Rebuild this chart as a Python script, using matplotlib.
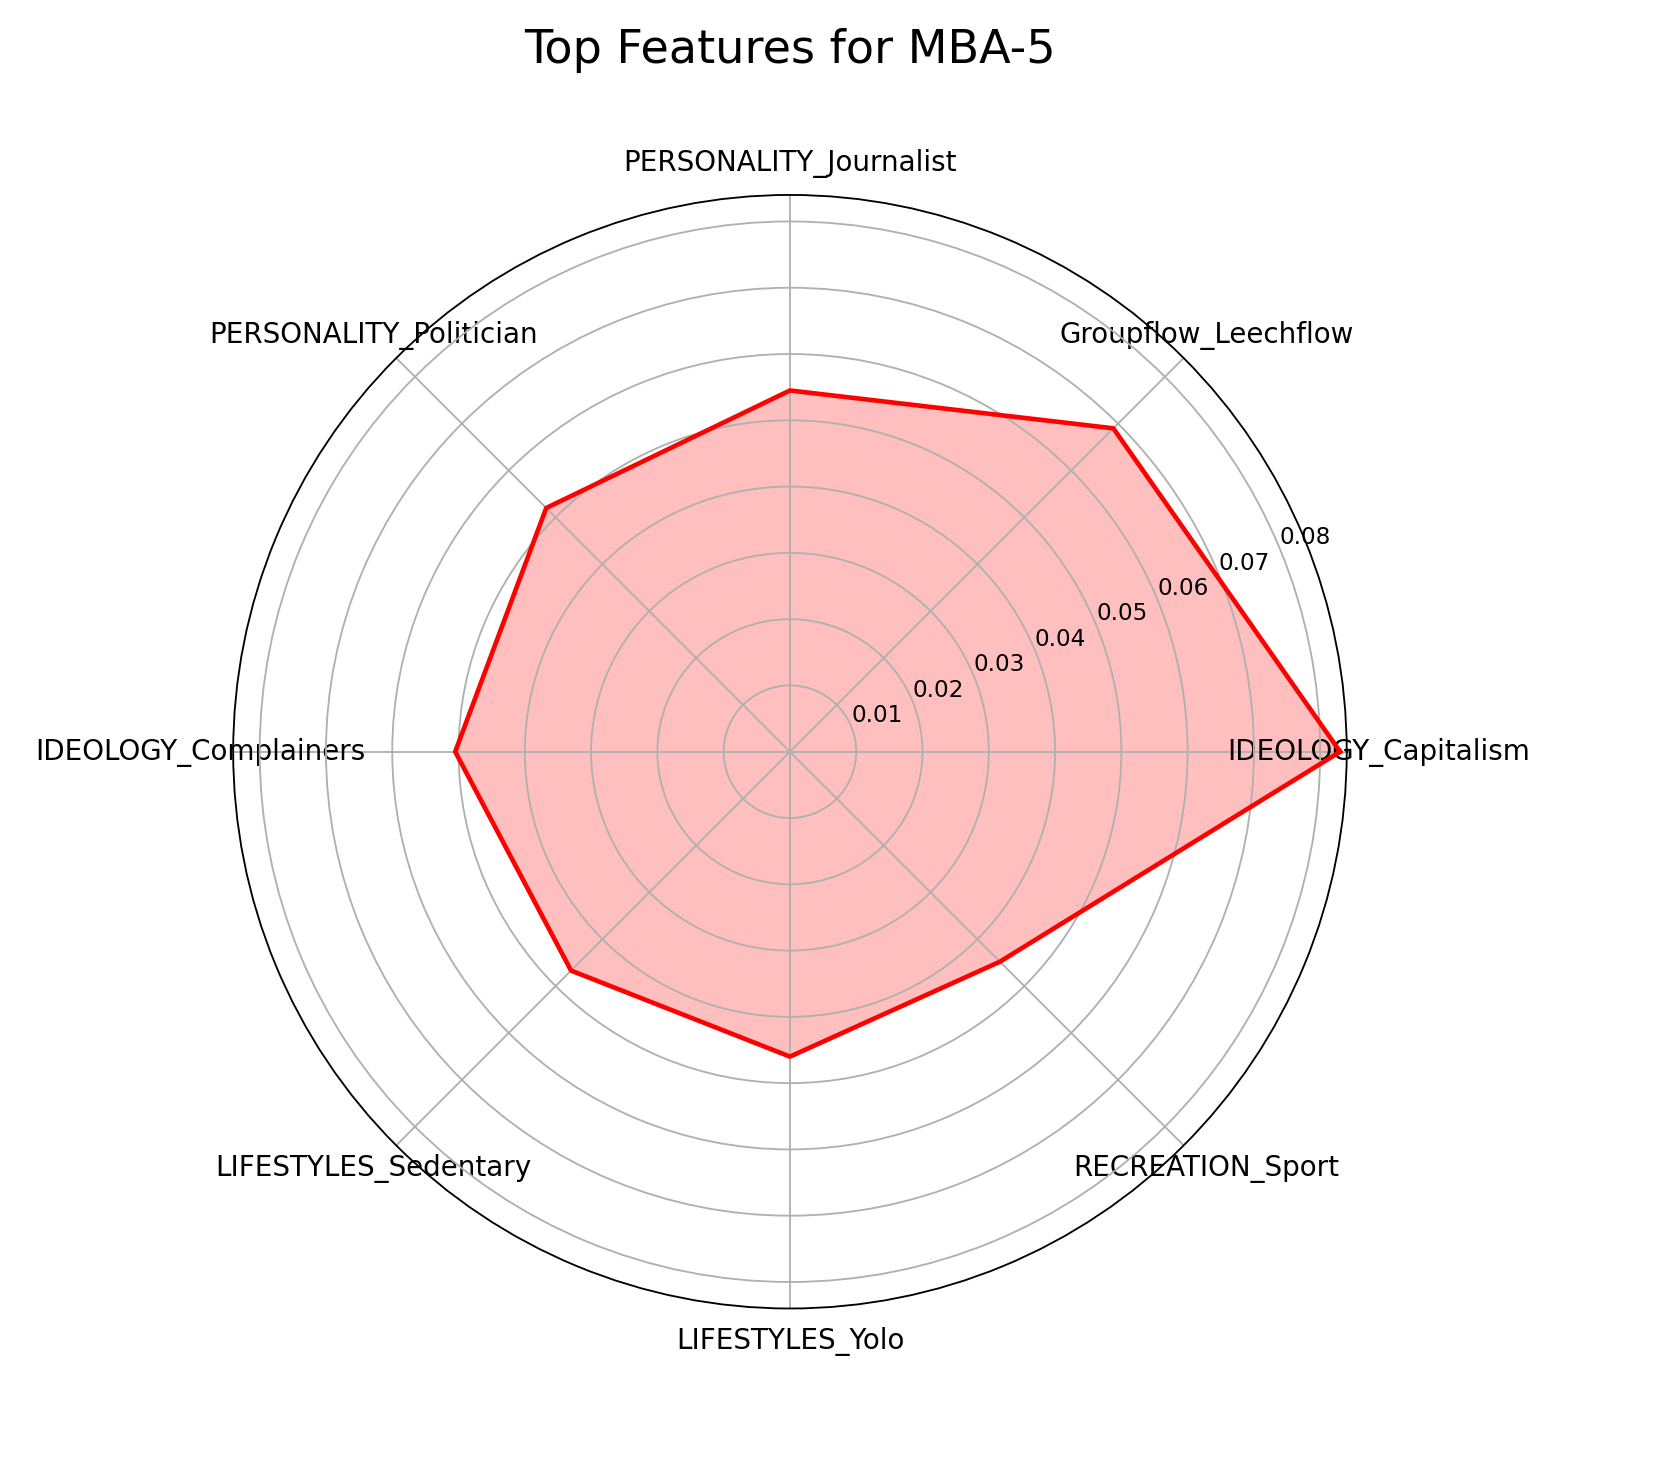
import numpy as np
import matplotlib.pyplot as plt

labels = ["IDEOLOGY_Capitalism", "Groupflow_Leechflow", "PERSONALITY_Journalist",
          "PERSONALITY_Politician", "IDEOLOGY_Complainers", "LIFESTYLES_Sedentary",
          "LIFESTYLES_Yolo", "RECREATION_Sport"]
values = [0.083, 0.069, 0.0545, 0.052, 0.0505, 0.0467, 0.046, 0.0448]

angles = np.linspace(0, 2 * np.pi, len(labels), endpoint=False).tolist()
vals = values + values[:1]
angs = angles + angles[:1]

fig = plt.figure(figsize=(10, 8.83), dpi=166.2)
ax = fig.add_axes([0.4753 - 0.335, 0.4874 - 0.3797, 0.670, 0.7594], polar=True)
ax.fill(angs, vals, color='red', alpha=0.25)
ax.plot(angs, vals, color='red', linewidth=2)
ax.set_xticks(angles)
ax.set_xticklabels(labels, fontsize=12)
ax.set_ylim(0, 0.084)
ax.set_yticks([0.01, 0.02, 0.03, 0.04, 0.05, 0.06, 0.07, 0.08])
ax.tick_params(axis='y', labelsize=10)
fig.text(0.4753, 1 - 50 / 1467, "Top Features for MBA-5", fontsize=20, ha='center', va='center')
plt.savefig("out.png")
